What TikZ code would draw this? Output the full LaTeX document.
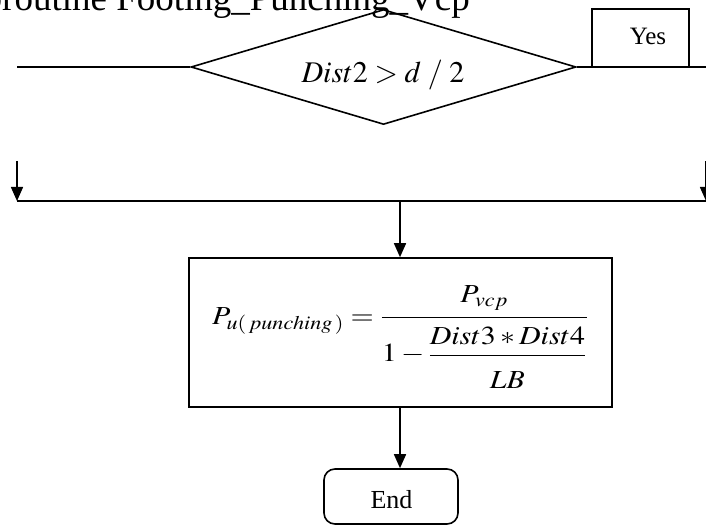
\documentclass[tikz,border=0pt]{standalone}
\usepackage{mathptmx}
\usepackage{graphicx}
\usepackage[no-math]{fontspec}
\setmainfont{Liberation Serif}
\usetikzlibrary{shapes.geometric,arrows.meta}
\tikzset{
  ln/.style={line width=1.6pt},
  arr/.style={line width=1.6pt,-{Triangle[length=14pt,width=12pt]}},
  decbox/.style={diamond,draw,line width=1.6pt,inner sep=0pt,minimum width=385pt,minimum height=115pt},
  dectext/.style={inner sep=0pt,font=\fontsize{30}{34}\selectfont},
  labbox/.style={rectangle,draw,line width=1.6pt,inner sep=0pt,minimum width=97pt,minimum height=58pt},
  plain/.style={inner sep=0pt},
  procbox/.style={rectangle,draw,line width=1.6pt,inner sep=0pt,minimum width=423pt,minimum height=149pt},
  frm/.style={inner sep=0pt,font=\fontsize{26}{30}\selectfont},
  termbox/.style={rectangle,rounded corners=11pt,draw,line width=1.6pt,inner sep=0pt,minimum width=134pt,minimum height=55pt},
  ttl/.style={font=\fontsize{37}{40}\selectfont,inner sep=0pt}
}
\begin{document}
\begin{tikzpicture}[x=1pt,y=-1pt]
\useasboundingbox (0,0) rectangle (706,526);
\clip (0,0) rectangle (706,526);
\node[ttl,anchor=base east] (title) at (470,10.5) {Subroutine Footing\_Punching\_Vcp};
\coordinate (L1) at (17,67);
\coordinate (R1) at (712,67);
\node[decbox] (dec) at (383.5,67) {};
\node[dectext,anchor=base] (dtxt) at (383,83) {$Dist2\;{>}\;d\;/\;2$};
\node[labbox] (yes) at (640.5,38) {};
\node[plain,anchor=base,font=\fontsize{25}{28}\selectfont] (yestxt) at (648,45) {Yes};
\draw[ln] (L1) -- (dec.west);
\draw[ln] (dec.east) -- (R1);
\coordinate (la) at (17,161);
\coordinate (lj) at (17,201);
\coordinate (ra) at (706,161);
\coordinate (rj) at (706,201);
\coordinate (mj) at (400,201);
\draw[arr] (la) -- (lj);
\draw[arr] (ra) -- (rj);
\draw[ln] (lj) -- (rj);
\node[procbox] (form) at (400.5,332.5) {};
\node[frm] (ftxt) at (400,337.5) {\scalebox{1.15}[1]{$\displaystyle P_{u(\,punching\,)}=\frac{P_{vcp}\rule[-11pt]{0pt}{11pt}}{1-\displaystyle\frac{\rule{0pt}{23pt}Dist3*Dist4\rule[-4pt]{0pt}{4pt}}{\rule{0pt}{30pt}LB}}$}};
\coordinate (fb) at (400,407);
\draw[arr] (mj) -- (mj |- form.north);
\node[termbox] (end) at (391,496.5) {};
\node[plain,anchor=base,font=\fontsize{26}{30}\selectfont] (endtxt) at (391.5,508) {End};
\draw[arr] (fb) -- (fb |- end.north);
\end{tikzpicture}
\end{document}
